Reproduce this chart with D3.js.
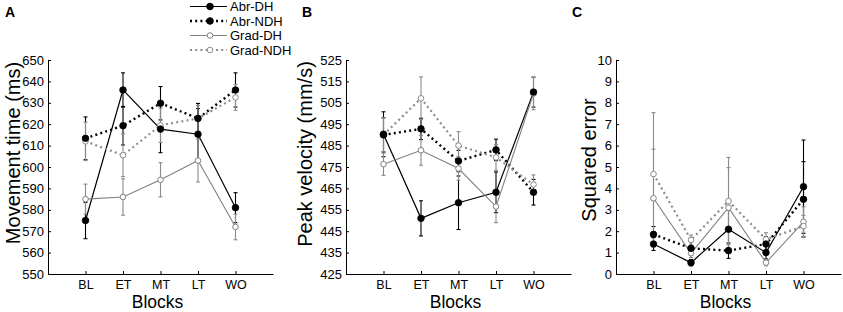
<!DOCTYPE html>
<html>
<head>
<meta charset="utf-8">
<script src="https://cdn.jsdelivr.net/npm/d3@7"></script>
<style>
  body { margin: 0; background: #fff; }
  svg { font-family: "Liberation Sans", Arial, sans-serif; }
</style>
</head>
<body>
<div id="chart"></div>
<script>
const W = 843, H = 312;

const blocks = ["BL", "ET", "MT", "LT", "WO"];
const seriesNames = ["Abr-DH", "Abr-NDH", "Grad-DH", "Grad-NDH"];

// panel A: movement time (ms)
const mtMean = [
  [575, 636, 617.7, 615.3, 581],
  [613.4, 619.3, 629.8, 622.7, 636],
  [585, 586, 594, 603, 572],
  [612, 605.5, 619.5, 622.7, 632.5]
];
const mtErr = [
  [8.5, 8, 11, 12, 7],
  [10, 9, 7.8, 7, 8],
  [7, 8.5, 8, 10, 6],
  [9, 10, 8, 6, 6]
];

// panel B: peak velocity (mm/s)
const pvMean = [
  [490.3, 451, 458.3, 463.2, 510],
  [490, 492.8, 477.8, 483, 463.2],
  [476.3, 482.8, 474.3, 456.5, 509.3],
  [490, 507.1, 485, 479.5, 466.8]
];
const pvErr = [
  [10.5, 8.2, 12.5, 9.5, 7],
  [8, 5, 5, 5, 6],
  [5.2, 7, 5.5, 7.5, 7.5],
  [8, 10, 6.5, 6, 4.5]
];

// panel C: squared error
const seMean = [
  [1.4, 0.53, 2.09, 1.0, 4.08],
  [1.85, 1.2, 1.09, 1.4, 3.49],
  [3.54, 0.97, 3.1, 0.53, 2.44],
  [4.67, 1.59, 3.41, 1.62, 2.24]
];
const seErr = [
  [0.3, 0.15, 0.9, 0.3, 2.18],
  [0.37, 0.3, 0.36, 0.35, 1.76],
  [2.29, 0.2, 1.87, 0.15, 0.7],
  [2.87, 0.23, 2.04, 0.31, 0.5]
];

const panels = [
  {id: "A", x0: 48, mean: mtMean, err: mtErr, dom: [550, 650], step: 10, ylab: "Movement time (ms)", lx: 19.5, ly: 153, px: 5},
  {id: "B", x0: 346, mean: pvMean, err: pvErr, dom: [425, 525], step: 10, ylab: "Peak velocity (mm/s)", lx: 312, ly: 154, px: 302},
  {id: "C", x0: 616, mean: seMean, err: seErr, dom: [0, 10], step: 1, ylab: "Squared error", lx: 596, ly: 160, px: 572}
];

const styles = [
  {color: "#000", width: 1.2, dash: null, filled: true, errColor: "#000"},
  {color: "#000", width: 2.4, dash: "2,3.2", filled: true, errColor: "#000"},
  {color: "#808080", width: 1.1, dash: null, filled: false, errColor: "#8a8a8a"},
  {color: "#8c8c8c", width: 2.2, dash: "2,3.2", filled: false, errColor: "#8a8a8a"}
];

const top_ = 60, bottom = 274, plotW = 225;

const svg = d3.select("#chart").append("svg")
  .attr("width", W).attr("height", H);

panels.forEach(p => {
  const g = svg.append("g").attr("transform", `translate(${p.x0},0)`);

  const x = d3.scaleLinear().domain([0, 6]).range([0, plotW]);
  const y = d3.scaleLinear().domain(p.dom).range([bottom, top_]);

  // y axis
  g.append("g")
    .call(d3.axisLeft(y).tickValues(d3.range(p.dom[0], p.dom[1] + p.step / 2, p.step))
      .tickSizeInner(-3).tickSizeOuter(0).tickPadding(4))
    .call(a => a.selectAll("text").attr("font-size", 13).attr("font-family", null).attr("fill", "#000"))
    .call(a => a.selectAll("line,path").attr("stroke", "#000"));

  // x axis
  g.append("g")
    .attr("transform", `translate(0,${bottom})`)
    .call(d3.axisBottom(x).tickValues([1, 2, 3, 4, 5]).tickFormat(i => blocks[i - 1])
      .tickSizeInner(-3).tickSizeOuter(0).tickPadding(6))
    .call(a => a.selectAll("text").attr("font-size", 12.5).attr("font-family", null).attr("fill", "#000"))
    .call(a => a.selectAll("line,path").attr("stroke", "#000"));

  // error bars
  p.mean.forEach((row, s) => {
    const st = styles[s];
    const eg = g.append("g").attr("stroke", st.errColor).attr("stroke-width", 1.1);
    row.forEach((v, i) => {
      const cx = x(i + 1), e = p.err[s][i];
      eg.append("line").attr("x1", cx).attr("x2", cx).attr("y1", y(v - e)).attr("y2", y(v + e));
      [v - e, v + e].forEach(t => {
        eg.append("line").attr("x1", cx - 2).attr("x2", cx + 2).attr("y1", y(t)).attr("y2", y(t));
      });
    });
  });

  // lines
  const line = d3.line().x((d, i) => x(i + 1)).y(d => y(d));
  p.mean.forEach((row, s) => {
    const st = styles[s];
    g.append("path").datum(row)
      .attr("d", line)
      .attr("fill", "none")
      .attr("stroke", st.color)
      .attr("stroke-width", st.width)
      .attr("stroke-dasharray", st.dash);
  });

  // markers (gray first, black on top)
  [2, 3, 0, 1].forEach(s => {
    const st = styles[s];
    g.append("g").selectAll("circle").data(p.mean[s]).join("circle")
      .attr("cx", (d, i) => x(i + 1))
      .attr("cy", d => y(d))
      .attr("r", st.filled ? 3.3 : 2.8)
      .attr("fill", st.filled ? "#000" : "#fff")
      .attr("stroke", st.color)
      .attr("stroke-width", st.filled ? 0.8 : 1);
  });

  // panel letter
  svg.append("text")
    .attr("x", p.px).attr("y", 17)
    .attr("font-size", 14).attr("font-weight", "bold")
    .text(p.id);

  // y label (baseline on the right after rotation)
  svg.append("text")
    .attr("transform", `translate(${p.lx},${p.ly}) rotate(-90)`)
    .attr("text-anchor", "middle")
    .attr("font-size", 20)
    .text(p.ylab);

  // x label
  g.append("text")
    .attr("x", plotW / 2 - 3).attr("y", 307.5)
    .attr("text-anchor", "middle")
    .attr("font-size", 17.5)
    .text("Blocks");
});

// legend
const legend = svg.append("g");
const rowsY = [6.5, 21, 35.5, 50];
seriesNames.forEach((name, s) => {
  const st = styles[s];
  const ly = rowsY[s];
  legend.append("line")
    .attr("x1", 190).attr("x2", 227).attr("y1", ly).attr("y2", ly)
    .attr("stroke", st.color).attr("stroke-width", st.width)
    .attr("stroke-dasharray", st.dash);
  legend.append("circle")
    .attr("cx", 210).attr("cy", ly)
    .attr("r", st.filled ? 3.3 : 2.8)
    .attr("fill", st.filled ? "#000" : "#fff")
    .attr("stroke", st.color).attr("stroke-width", 1);
  legend.append("text")
    .attr("x", 230).attr("y", ly + 4.6)
    .attr("font-size", 13)
    .text(name);
});
</script>
</body>
</html>
